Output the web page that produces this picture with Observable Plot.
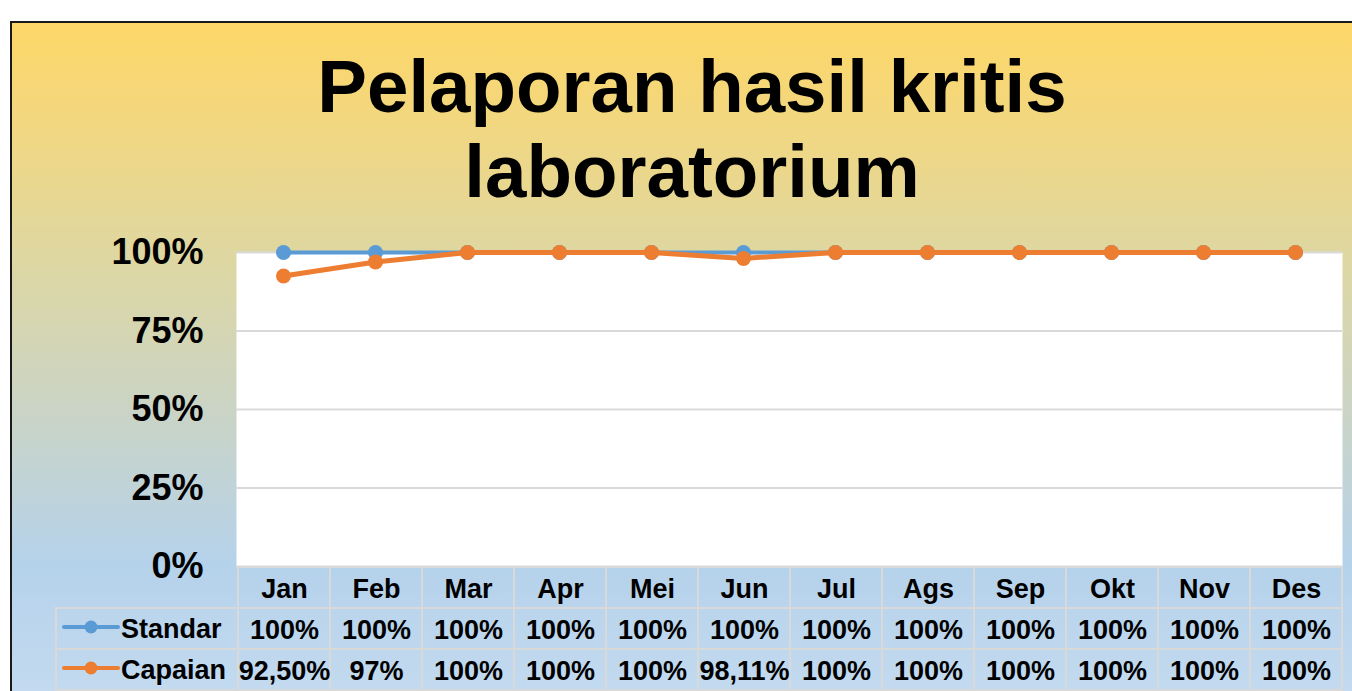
<!DOCTYPE html>
<html>
<head>
<meta charset="utf-8">
<script src="https://cdn.jsdelivr.net/npm/d3@7"></script>
<script src="https://cdn.jsdelivr.net/npm/@observablehq/plot@0.6"></script>
<style>
  html, body { margin: 0; padding: 0; background: #ffffff; }
  #root { position: relative; width: 1352px; height: 691px; overflow: hidden; font-family: "Liberation Sans", Arial, sans-serif; }
  #bg { position: absolute; left: 10px; top: 21px; width: 1342px; height: 670px;
        border-left: 2px solid #1a1a1a; border-top: 2px solid #1a1a1a;
        background: linear-gradient(to bottom, #FDD767 0%, #F2D780 15%, #DFD7A0 34%, #CBD4C4 57%, #B5D2EB 81%, #C3DAEF 100%); }
  #title { position: absolute; left: 31px; top: 44px; width: 1322px; text-align: center;
           font-size: 74.5px; line-height: 85px; font-weight: bold; color: #000; }
  #main, #table { position: absolute; left: 0; }
  #main { top: 0; }
  #table { top: 566px; }
  #labels { position: absolute; left: 55px; top: 607px; width: 181px; }
  .lrow { position: relative; height: 39px; border-top: 2px solid #d9d9d9; border-left: 2px solid #d9d9d9;
          font-size: 27px; font-weight: bold; color: #000; }
  .lrow:last-child { border-bottom: 2px solid #d9d9d9; }
  .lrow svg { position: absolute; left: 5px; top: 10px; }
  .lrow span { position: absolute; left: 64px; top: 4px; line-height: 32px; }
  svg { overflow: visible; }
</style>
</head>
<body>
<div id="root">
  <div id="bg"></div>
  <div id="title">Pelaporan hasil kritis<br>laboratorium</div>
  <div id="main"></div>
  <div id="table"></div>
  <div id="labels"></div>
</div>
<script>
// ---- data ----
const months = ["Jan","Feb","Mar","Apr","Mei","Jun","Jul","Ags","Sep","Okt","Nov","Des"];
const standar = [100,100,100,100,100,100,100,100,100,100,100,100];
const capaian = [92.5,97,100,100,100,98.11,100,100,100,100,100,100];
const standarLabels = ["100%","100%","100%","100%","100%","100%","100%","100%","100%","100%","100%","100%"];
const capaianLabels = ["92,50%","97%","100%","100%","100%","98,11%","100%","100%","100%","100%","100%","100%"];
const seriesNames = ["Standar","Capaian"];
const seriesColors = ["#5B9BD5","#ED7D31"];
const yTicks = [0,25,50,75,100];
const headerKey = "header";

// ---- derived tables ----
const standarRows = months.map((m, i) => ({month: m, value: standar[i]}));
const capaianRows = months.map((m, i) => ({month: m, value: capaian[i]}));
const tableCells = [];
months.forEach((m, i) => {
  tableCells.push({month: m, row: headerKey, text: m});
  tableCells.push({month: m, row: seriesNames[0], text: standarLabels[i]});
  tableCells.push({month: m, row: seriesNames[1], text: capaianLabels[i]});
});

const font = "'Liberation Sans', Arial, sans-serif";

const main = Plot.plot({
  width: 1352,
  height: 606,
  marginLeft: 236,
  marginRight: 10,
  marginTop: 252,
  marginBottom: 40,
  style: {background: "transparent", fontFamily: font, fontWeight: "bold", color: "black", overflow: "visible"},
  x: {type: "point", domain: months, padding: 0.5, axis: null},
  y: {domain: [0, 100], axis: null},
  marks: [
    Plot.frame({fill: "white", stroke: "none"}),
    Plot.gridY(yTicks, {stroke: "#d9d9d9", strokeOpacity: 1, strokeWidth: 2}),
    Plot.axisY(yTicks, {tickSize: 0, tickPadding: 33, fontSize: 36, fontWeight: "bold", fill: "black", label: null, tickFormat: d => d + "%"}),
    Plot.line(standarRows, {x: "month", y: "value", stroke: seriesColors[0], strokeWidth: 4}),
    Plot.dot(standarRows, {x: "month", y: "value", r: 7.5, fill: seriesColors[0], stroke: "none"}),
    Plot.line(capaianRows, {x: "month", y: "value", stroke: seriesColors[1], strokeWidth: 5}),
    Plot.dot(capaianRows, {x: "month", y: "value", r: 7.5, fill: seriesColors[1], stroke: "none"})
  ]
});
document.getElementById("main").appendChild(main);

const table = Plot.plot({
  width: 1352,
  height: 125,
  marginLeft: 236,
  marginRight: 9,
  marginTop: 0,
  marginBottom: 1,
  style: {background: "transparent", fontFamily: font, fontWeight: "bold", color: "black", overflow: "visible"},
  x: {type: "band", domain: months, padding: 0, axis: null},
  y: {type: "band", domain: [headerKey, ...seriesNames], padding: 0, axis: null},
  marks: [
    Plot.cell(tableCells, {x: "month", y: "row", fill: "none", stroke: "#d9d9d9", strokeWidth: 2, inset: 0}),
    Plot.text(tableCells, {x: "month", y: "row", text: "text", fontSize: 27, fontWeight: "bold", fill: "black", dy: 1})
  ]
});
document.getElementById("table").appendChild(table);

// legend-style row labels
const labels = document.getElementById("labels");
seriesNames.forEach((name, i) => {
  const row = document.createElement("div");
  row.className = "lrow";
  row.innerHTML = `<svg width="58" height="16"><line x1="2" y1="8" x2="56" y2="8" stroke="${seriesColors[i]}" stroke-width="4" stroke-linecap="round"/><circle cx="29" cy="8" r="6.5" fill="${seriesColors[i]}"/></svg><span>${name}</span>`;
  labels.appendChild(row);
});
</script>
</body>
</html>
